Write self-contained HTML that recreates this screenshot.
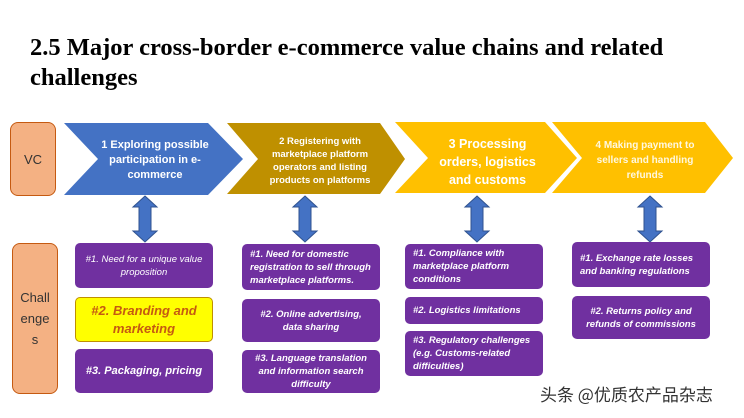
<!DOCTYPE html>
<html><head><style>
body{margin:0;width:744px;height:418px;background:#fff;position:relative;overflow:hidden;font-family:"Liberation Sans",sans-serif}
.t{position:absolute;left:30px;top:33px;font:bold 24.5px "Liberation Serif",serif;color:#000;line-height:30px;white-space:nowrap}
.side{position:absolute;background:#f4b183;border:1.5px solid #c55a11;border-radius:8px;color:#333;font-size:13px;display:flex;align-items:center;justify-content:center;text-align:center;line-height:21px}
.p{position:absolute;background:#7030a0;border-radius:5px;color:#fff;font-style:italic;font-size:9.5px;font-weight:bold;display:flex;align-items:center;padding:0 8px;box-sizing:border-box;line-height:13px}
.c{justify-content:center;text-align:center}
.ch{position:absolute;color:#fff;text-align:center;font-weight:bold}
</style></head><body>
<div class="t">2.5 Major cross-border e-commerce value chains and related<br>challenges</div>
<div class="side" style="left:10px;top:122px;width:44px;height:72px">VC</div>
<div class="side" style="left:12px;top:243px;width:44px;height:149px">Chall<br>enge<br>s</div>
<svg width="744" height="418" style="position:absolute;left:0;top:0">
<polygon points="64,123 208,123 243,159 208,195 64,195 98,159" fill="#4472c4"/>
<polygon points="227,123 380,123 405,159 380,194 227,194 258,159" fill="#bf9000"/>
<polygon points="395,122 545,122 577,158 545,193 395,193 428,158" fill="#ffc000"/>
<polygon points="552,122 705,122 733,158 705,193 552,193 582,158" fill="#ffc000"/>
<g fill="#4472c4" stroke="#2f528f" stroke-width="1">
<polygon points="145,196 157,207 151,207 151,231 157,231 145,242 133,231 139,231 139,207 133,207"/>
<polygon points="305,196 317,207 311,207 311,231 317,231 305,242 293,231 299,231 299,207 293,207"/>
<polygon points="477,196 489,207 483,207 483,231 489,231 477,242 465,231 471,231 471,207 465,207"/>
<polygon points="650,196 662,207 656,207 656,231 662,231 650,242 638,231 644,231 644,207 638,207"/>
</g>
</svg>
<div class="ch" style="left:95px;top:138px;width:120px;font-size:11px;line-height:15px">1 Exploring possible participation in e-commerce</div>
<div class="ch" style="left:260px;top:135px;width:120px;font-size:9.5px;line-height:13px">2 Registering with marketplace platform operators and listing products on platforms</div>
<div class="ch" style="left:430px;top:135px;width:115px;font-size:12.5px;line-height:18px">3 Processing orders, logistics and customs</div>
<div class="ch" style="left:590px;top:138px;width:110px;font-size:10px;line-height:15px;color:#fff8e0">4 Making payment to sellers and handling refunds</div>

<div class="p c" style="left:75px;top:243px;width:138px;height:45px;font-weight:normal">#1. Need for a unique value proposition</div>
<div class="p c" style="left:75px;top:297px;width:138px;height:45px;background:#ffff00;border:1px solid #bf9000;color:#c55a11;font-size:13px;line-height:18px">#2. Branding and marketing</div>
<div class="p c" style="left:75px;top:349px;width:138px;height:44px;font-size:11px">#3. Packaging, pricing</div>

<div class="p" style="left:242px;top:244px;width:138px;height:46px">#1. Need for domestic registration to sell through marketplace platforms.</div>
<div class="p c" style="left:242px;top:299px;width:138px;height:43px">#2. Online advertising, data sharing</div>
<div class="p c" style="left:242px;top:350px;width:138px;height:43px">#3. Language translation and information search difficulty</div>

<div class="p" style="left:405px;top:244px;width:138px;height:45px">#1. Compliance with marketplace platform conditions</div>
<div class="p" style="left:405px;top:297px;width:138px;height:27px">#2. Logistics limitations</div>
<div class="p" style="left:405px;top:331px;width:138px;height:45px">#3. Regulatory challenges (e.g. Customs-related difficulties)</div>

<div class="p" style="left:572px;top:242px;width:138px;height:45px">#1. Exchange rate losses and banking regulations</div>
<div class="p c" style="left:572px;top:296px;width:138px;height:43px">#2. Returns policy and refunds of commissions</div>

<div style="position:absolute;left:540px;top:381px;font:17px 'Noto Sans CJK SC',sans-serif;color:#333">头条 @优质农产品杂志</div>
</body></html>
